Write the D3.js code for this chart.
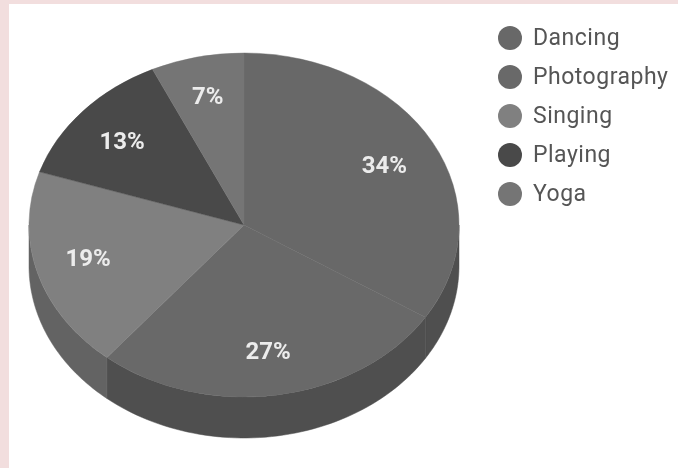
<!DOCTYPE html>
<html>
<head>
<meta charset="utf-8">
<script src="https://cdn.jsdelivr.net/npm/d3@7"></script>
<style>
html, body { margin: 0; padding: 0; background: #fff; }
svg { display: block; }
text { font-family: Roboto, "Liberation Sans", sans-serif; }
</style>
</head>
<body>
<svg id="chart"></svg>
<script>
const categories = ["Dancing", "Photography", "Singing", "Playing", "Yoga"];
const shares = [34, 27, 19, 13, 7];
const topColors = ["#676767", "#696969", "#808080", "#484848", "#747474"];
const sideColors = ["#4f4f4f", "#4f4f4f", "#646464", "#383838", "#585858"];

const width = 678, height = 468;
const cx = 244, cy = 225, rx = 215, ry = 172, depth = 41;
// small per-label vertical nudges, the original does not sit exactly on the ring
const labelNudge = [2, -1, -3, 1, -3];

const svg = d3.select("#chart").attr("width", width).attr("height", height);

// the reference is a soft jpeg, so everything gets a slight blur
svg.append("filter").attr("id", "soft")
	.append("feGaussianBlur").attr("stdDeviation", 0.55);

// pink frame on the left and top of the picture
svg.append("rect").attr("width", width).attr("height", height).attr("fill", "#f2dede");
svg.append("rect").attr("x", 9).attr("y", 4).attr("width", width - 9).attr("height", height - 4).attr("fill", "#fff");

const chart = svg.append("g").attr("filter", "url(#soft)");

const pie = d3.pie().sort(null).value(d => d.share);
const slices = pie(categories.map((name, i) => ({ name: name, share: shares[i], i: i })));

function ellipsePoint(a, dy) {
	return [cx + rx * Math.sin(a), cy - ry * Math.cos(a) + dy];
}

// side wall: only the part of each slice facing the viewer (angles 90..270 deg)
const wall = d3.line();
const wallGroup = chart.append("g");
slices.forEach(function(s) {
	const a0 = Math.max(s.startAngle, Math.PI / 2);
	const a1 = Math.min(s.endAngle, Math.PI * 1.5);
	if (a1 <= a0) return;
	const steps = d3.range(0, 61).map(k => a0 + (a1 - a0) * k / 60);
	const pts = steps.map(a => ellipsePoint(a, 0)).concat(steps.slice().reverse().map(a => ellipsePoint(a, depth)));
	wallGroup.append("path")
		.attr("d", wall(pts) + "Z")
		.attr("fill", sideColors[s.data.i])
		.attr("stroke", sideColors[s.data.i])
		.attr("stroke-width", 0.5);
});

// top face: a circular pie squashed into an ellipse
const arc = d3.arc().innerRadius(0).outerRadius(rx);
const labelArc = d3.arc().innerRadius(rx * 0.75).outerRadius(rx * 0.75);

const topFace = chart.append("g").attr("transform", `translate(${cx},${cy}) scale(1,${ry / rx})`);
topFace.selectAll("path").data(slices).enter().append("path")
	.attr("d", arc)
	.attr("fill", d => topColors[d.data.i])
	.attr("stroke", d => topColors[d.data.i])
	.attr("stroke-width", 0.5);

chart.append("g").selectAll("text").data(slices).enter().append("text")
	.attr("x", d => cx + labelArc.centroid(d)[0] - 1)
	.attr("y", d => cy + labelArc.centroid(d)[1] * ry / rx + labelNudge[d.data.i])
	.attr("dy", "0.33em")
	.attr("text-anchor", "middle")
	.attr("font-size", 24)
	.attr("font-weight", 700)
	.attr("fill", "#ececec")
	.text(d => d.data.share + "%");

// legend
const legendY = d3.scalePoint().domain(categories).range([38, 194]);
const legend = chart.append("g").selectAll("g").data(categories).enter().append("g")
	.attr("transform", d => `translate(510,${legendY(d)})`);
legend.append("circle")
	.attr("r", 12)
	.attr("fill", (d, i) => topColors[i]);
legend.append("text")
	.attr("x", 23)
	.attr("dy", "0.3em")
	.attr("font-size", 23)
	.attr("letter-spacing", 0.5)
	.attr("fill", "#555")
	.text(d => d);
</script>
</body>
</html>
